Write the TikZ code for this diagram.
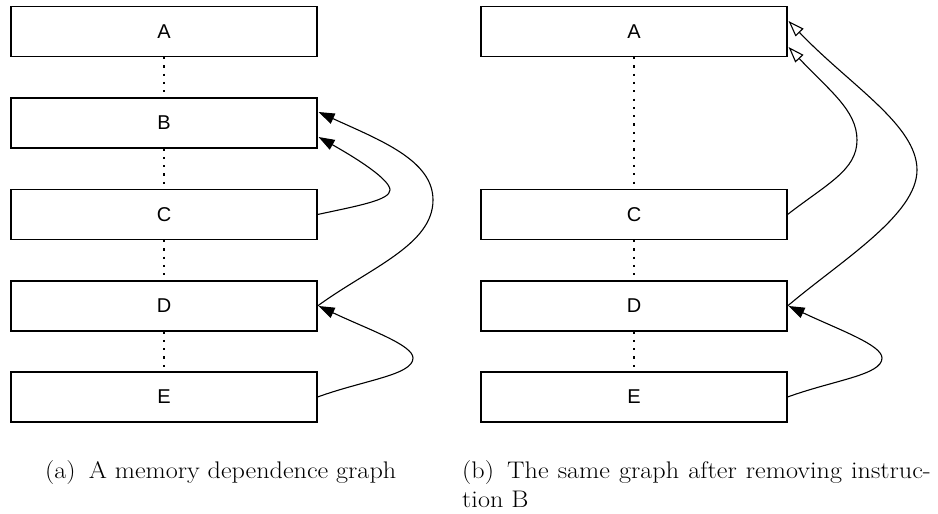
\documentclass[tikz,border=0pt]{standalone}
\usepackage{fontspec}
\usepackage{graphicx}
\newfontfamily\labelfont{Liberation Sans}
\usetikzlibrary{arrows.meta,calc}

\begin{document}
\begin{tikzpicture}[x=1pt,y=-1pt,
  instr/.style={draw,line width=1.1pt,minimum width=306pt,minimum height=50pt,
    inner sep=0pt,font=\labelfont\fontsize{20}{24}\selectfont},
  order/.style={line width=1.7pt,dash pattern=on 2.2pt off 6.1pt},
  dep/.style={line width=1.1pt,-{Triangle[length=16pt,width=11pt]}},
  depopen/.style={line width=1.1pt,-{Triangle[open,length=16pt,width=11pt]}},
  caption/.style={font=\fontsize{24}{29}\selectfont,anchor=base west,inner sep=0pt}]
\useasboundingbox (0,0) rectangle (938,514);

% (a) full memory dependence graph
\node[instr] (A) at (164,31.5) {A};
\node[instr] (B) at (164,123)  {B};
\node[instr] (C) at (164,214.5) {C};
\node[instr] (D) at (164,306)  {D};
\node[instr] (E) at (164,397)  {E};
\foreach \u/\v in {A/B,B/C,C/D,D/E} \draw[order] (\u.south) -- (\v.north);

\draw[dep] (C.east) .. controls +(42,-9) and +(0,10) .. (390,190)
  .. controls +(0,-10) and +(41,23) .. ($(B.east)+(1,14)$);
\draw[dep] (D.east) .. controls +(52,-38) and +(0,45) .. (433,200)
  .. controls +(0,-40) and +(61,28) .. ($(B.east)+(1,-11)$);
\draw[dep] (E.east) .. controls +(47,-17) and +(0,17) .. (413,358)
  .. controls +(0,-13) and +(51,24) .. ($(D.east)+(1,0)$);

% (b) the same graph without instruction B
\node[instr] (A2) at (634,31.5)  {A};
\node[instr] (C2) at (634,214.5) {C};
\node[instr] (D2) at (634,306)   {D};
\node[instr] (E2) at (634,397)   {E};
\foreach \u/\v in {A2/C2,C2/D2,D2/E2} \draw[order] (\u.south) -- (\v.north);

\draw[depopen] (C2.east) .. controls +(40,-31) and +(0,30) .. (857,140)
  .. controls +(0,-30) and +(40,43) .. ($(A2.east)+(1,15.5)$);
\draw[depopen] (D2.east) .. controls +(53,-45) and +(0,45) .. (917,170)
  .. controls +(0,-45) and +(61,64) .. ($(A2.east)+(1,-10.5)$);
\draw[dep] (E2.east) .. controls +(47,-17) and +(0,17) .. (882,358)
  .. controls +(0,-13) and +(51,24) .. ($(D2.east)+(1,0)$);

% sub-figure captions (slightly widened serif)
\node[caption] (capa) at (45,478)
  {\scalebox{1.09}[1]{(a)\enspace A memory dependence graph}};
\node[caption] (capb) at (462,478)
  {\scalebox{1.09}[1]{\parbox[t]{430pt}{(b)\enspace The same graph after removing instruc-\linebreak tion B}}};
\end{tikzpicture}
\end{document}
